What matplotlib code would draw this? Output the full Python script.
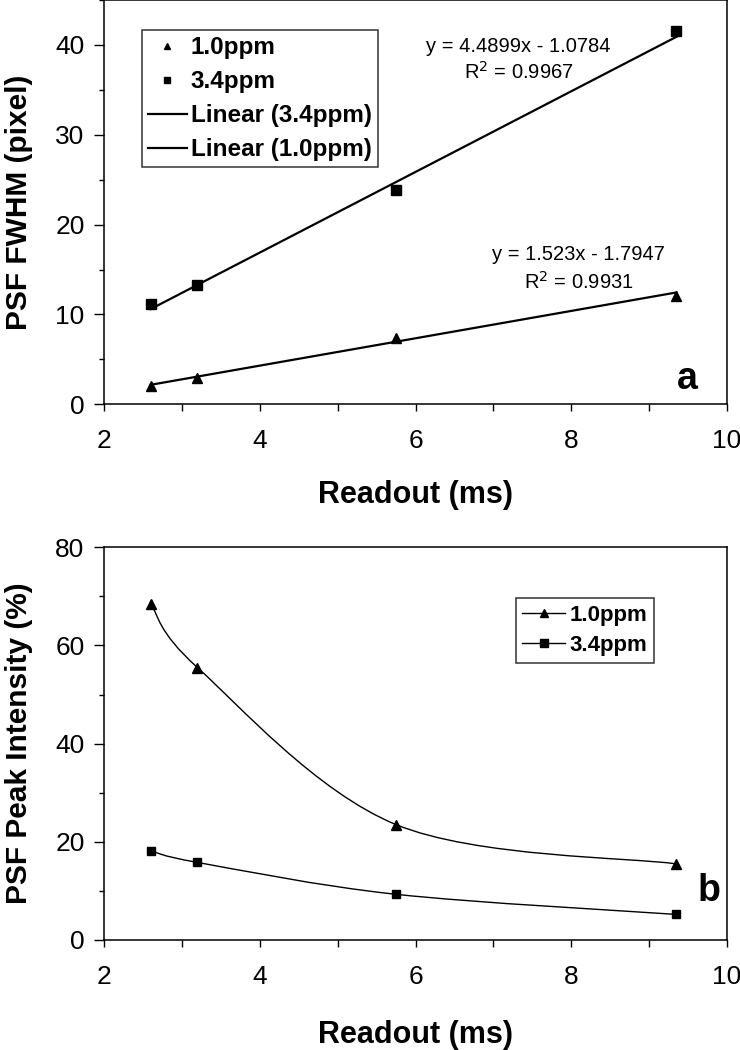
import numpy as np
import matplotlib.pyplot as plt
from matplotlib.path import Path
from matplotlib.patches import PathPatch
from matplotlib.lines import Line2D
from matplotlib.ticker import MultipleLocator

plt.rcParams['font.family'] = ['Liberation Sans', 'DejaVu Sans']

# readout times (ms) and measured values
readout = [2.6, 3.2, 5.75, 9.35]
fwhm_10 = [2.0, 2.9, 7.4, 12.0]
fwhm_34 = [11.2, 13.3, 23.8, 41.5]
peak_10 = [68.5, 55.5, 23.5, 15.5]
peak_34 = [18.2, 15.8, 9.3, 5.2]

# linear trendlines (slope, intercept, R^2) as printed on the chart
fit_10 = (1.523, -1.7947, 0.9931)
fit_34 = (4.4899, -1.0784, 0.9967)


def smooth_path(x, y, t=1/6):
    # Excel style smoothed line: cubic bezier through the points
    pts = np.column_stack([x, y])
    ext = np.vstack([pts[0], pts, pts[-1]])
    verts = [pts[0]]
    codes = [Path.MOVETO]
    for i in range(len(pts) - 1):
        p0, p1, p2, p3 = ext[i], ext[i + 1], ext[i + 2], ext[i + 3]
        verts += [p1 + (p2 - p0) * t, p2 - (p3 - p1) * t, p2]
        codes += [Path.CURVE4] * 3
    return Path(verts, codes)


def style_axes(ax, ymax, ymajor, yminor, xlab_y):
    ax.set_xlim(2, 10)
    ax.set_ylim(0, ymax)
    ax.xaxis.set_major_locator(MultipleLocator(2))
    ax.xaxis.set_minor_locator(MultipleLocator(1))
    ax.yaxis.set_major_locator(MultipleLocator(ymajor))
    ax.yaxis.set_minor_locator(MultipleLocator(yminor))
    ax.tick_params(axis='x', which='both', direction='out', length=5, width=1,
                   pad=13, labelsize=19, top=False)
    ax.tick_params(axis='y', which='major', direction='out', length=7, width=1,
                   pad=7, labelsize=19, right=False)
    ax.tick_params(axis='y', which='minor', direction='out', length=3.5, width=1,
                   right=False)
    for s in ax.spines.values():
        s.set_linewidth(1.1)
    ax.set_xlabel('Readout (ms)', fontsize=22, fontweight='bold')
    ax.xaxis.set_label_coords(0.5, xlab_y)
    ax.xaxis.label.set_verticalalignment('center')


fig = plt.figure(figsize=(7.4, 10.5), dpi=100)
ax1 = fig.add_axes([0.1405, 0.615, 0.842, 0.385])
ax2 = fig.add_axes([0.1405, 0.1048, 0.842, 0.374])

# ---- panel a ----
style_axes(ax1, 45, 10, 5, -0.224)
xl = np.array([min(readout), max(readout)])
ax1.plot(xl, fit_34[0] * xl + fit_34[1], color='k', lw=1.6)
ax1.plot(xl, fit_10[0] * xl + fit_10[1], color='k', lw=1.6)
ax1.plot(readout, fwhm_10, ls='none', marker='^', ms=7.5, color='k')
ax1.plot(readout, fwhm_34, ls='none', marker='s', ms=6.5, color='k')
ax1.set_ylabel('PSF FWHM (pixel)', fontsize=21.5, fontweight='bold')
ax1.yaxis.set_label_coords(-0.137, 0.5)
ax1.yaxis.label.set_verticalalignment('center')

h1 = [Line2D([], [], ls='none', marker='^', ms=5, color='k'),
      Line2D([], [], ls='none', marker='s', ms=4.5, color='k'),
      Line2D([], [], color='k', lw=1.6),
      Line2D([], [], color='k', lw=1.6)]
leg1 = ax1.legend(h1, ['1.0ppm', '3.4ppm', 'Linear (3.4ppm)', 'Linear (1.0ppm)'],
                  loc='upper left', bbox_to_anchor=(0.061, 0.925), borderaxespad=0,
                  prop={'weight': 'bold', 'size': 17.5}, frameon=True, fancybox=False,
                  edgecolor='k', handlelength=1.6, handletextpad=0.15,
                  labelspacing=0.45, borderpad=0.25)
leg1.get_frame().set_linewidth(1.1)

ax1.text(0.665, 0.886, 'y = %.4fx - %.4f' % (fit_34[0], -fit_34[1]),
         transform=ax1.transAxes, ha='center', va='center', fontsize=14.5)
ax1.text(0.666, 0.823, 'R$^2$ = %.4f' % fit_34[2],
         transform=ax1.transAxes, ha='center', va='center', fontsize=14.5)
ax1.text(0.762, 0.371, 'y = %.3fx - %.4f' % (fit_10[0], -fit_10[1]),
         transform=ax1.transAxes, ha='center', va='center', fontsize=14.5)
ax1.text(0.762, 0.303, 'R$^2$ = %.4f' % fit_10[2],
         transform=ax1.transAxes, ha='center', va='center', fontsize=14.5)
ax1.text(0.936, 0.062, 'a', transform=ax1.transAxes, ha='center', va='center',
         fontsize=27, fontweight='bold')

# ---- panel b ----
style_axes(ax2, 80, 20, 10, -0.243)
for vals, mk, ms in [(peak_10, '^', 6.5), (peak_34, 's', 6)]:
    ax2.add_patch(PathPatch(smooth_path(readout, vals), fill=False, color='k', lw=1.0))
    ax2.plot(readout, vals, ls='none', marker=mk, ms=ms, color='k')
ax2.set_ylabel('PSF Peak Intensity (%)', fontsize=21.5, fontweight='bold')
ax2.yaxis.set_label_coords(-0.137, 0.5)
ax2.yaxis.label.set_verticalalignment('center')

h2 = [Line2D([], [], color='k', lw=1.0, marker='^', ms=6),
      Line2D([], [], color='k', lw=1.0, marker='s', ms=5.5)]
leg2 = ax2.legend(h2, ['1.0ppm', '3.4ppm'], loc='upper left',
                  bbox_to_anchor=(0.661, 0.870), borderaxespad=0,
                  prop={'weight': 'bold', 'size': 16}, frameon=True, fancybox=False,
                  edgecolor='k', handlelength=1.9, handletextpad=0.2,
                  labelspacing=0.4, borderpad=0.3)
leg2.get_frame().set_linewidth(1.1)
ax2.text(0.971, 0.125, 'b', transform=ax2.transAxes, ha='center', va='center',
         fontsize=27, fontweight='bold')

fig.savefig('out.png', dpi=100)
